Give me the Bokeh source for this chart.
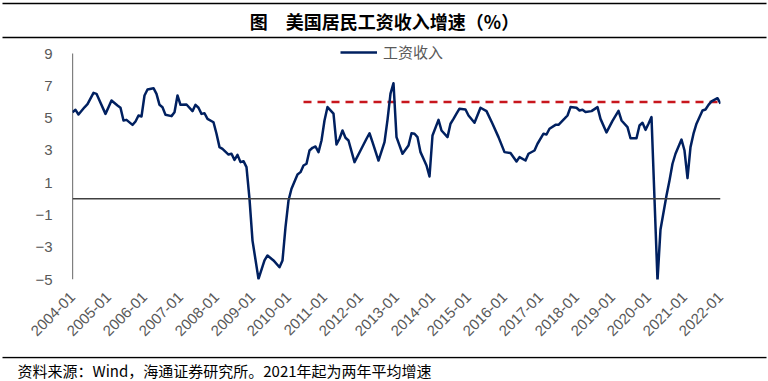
import math
from bokeh.plotting import figure
from bokeh.layouts import column
from bokeh.models import (Span, Legend, LegendItem, FixedTicker, Range1d)
from bokeh.core.properties import value
from bokeh.embed import file_html
from bokeh.resources import INLINE

# ---------------- data ----------------
months = [
    "2004-01", "2004-02", "2004-03", "2004-05", "2004-06", "2004-08", "2004-09", "2004-10",
    "2004-12", "2005-01", "2005-02", "2005-04", "2005-05", "2005-06", "2005-07", "2005-09",
    "2005-10", "2005-11", "2005-12", "2006-01", "2006-02", "2006-04", "2006-05", "2006-06",
    "2006-07", "2006-08", "2006-10", "2006-11", "2006-12", "2007-01", "2007-03", "2007-05",
    "2007-06", "2007-07", "2007-08", "2007-09", "2007-10", "2007-12", "2008-01", "2008-02",
    "2008-03", "2008-05", "2008-06", "2008-07", "2008-08", "2008-09", "2008-10", "2008-11",
    "2008-12", "2009-01", "2009-03", "2009-05", "2009-06", "2009-08", "2009-10", "2009-11",
    "2009-12", "2010-01", "2010-02", "2010-04", "2010-05", "2010-06", "2010-07", "2010-08",
    "2010-09", "2010-10", "2010-11", "2010-12", "2011-01", "2011-02", "2011-04", "2011-05",
    "2011-06", "2011-07", "2011-08", "2011-09", "2011-11", "2012-01", "2012-03", "2012-04",
    "2012-05", "2012-07", "2012-09", "2012-10", "2012-11", "2012-12", "2013-01", "2013-03",
    "2013-05", "2013-06", "2013-07", "2013-08", "2013-09", "2013-10", "2013-11", "2013-12",
    "2014-01", "2014-03", "2014-04", "2014-06", "2014-07", "2014-08", "2014-09", "2014-10",
    "2014-12", "2015-01", "2015-03", "2015-05", "2015-07", "2015-09", "2015-11", "2016-01",
    "2016-03", "2016-05", "2016-06", "2016-08", "2016-09", "2016-11", "2016-12", "2017-02",
    "2017-03", "2017-04", "2017-06", "2017-07", "2017-09", "2017-10", "2017-11", "2018-01",
    "2018-02", "2018-03", "2018-04", "2018-06", "2018-08", "2018-09", "2018-11", "2019-01",
    "2019-03", "2019-04", "2019-06", "2019-07", "2019-09", "2019-10", "2019-11", "2019-12",
    "2020-01", "2020-02", "2020-04", "2020-05", "2020-07", "2020-08", "2020-09", "2020-10",
    "2020-12", "2021-01", "2021-02", "2021-03", "2021-04", "2021-05", "2021-07", "2021-08",
    "2021-09", "2021-10", "2021-12", "2022-01",
]
wage_growth = [
    5.36, 5.51, 5.22, 5.67, 5.86, 6.56, 6.50, 6.09,
    5.26, 5.67, 6.09, 5.78, 5.64, 4.85, 4.89, 4.58,
    4.79, 5.16, 5.10, 6.40, 6.77, 6.85, 6.50, 5.82,
    5.67, 5.20, 5.12, 5.36, 6.40, 5.82, 5.84, 5.43,
    5.82, 5.64, 5.26, 5.30, 4.95, 4.74, 4.03, 3.20,
    3.09, 2.74, 2.79, 2.41, 2.72, 2.27, 2.33, 1.96,
    0.00, -2.59, -4.96, -3.82, -3.51, -3.82, -4.24, -3.82,
    -1.76, -0.11, 0.62, 1.50, 1.65, 2.06, 2.17, 2.99,
    3.16, 3.24, 2.89, 3.61, 4.85, 5.68, 5.27, 3.36,
    3.72, 4.23, 3.78, 3.61, 2.27, 2.99, 3.72, 4.06,
    3.51, 2.37, 3.51, 4.89, 6.51, 7.16, 3.82, 2.79,
    3.30, 4.06, 4.03, 3.82, 2.89, 2.48, 2.06, 1.38,
    3.92, 4.89, 4.23, 3.82, 4.65, 4.95, 5.27, 5.58,
    5.53, 5.16, 4.71, 5.64, 5.43, 4.65, 3.82, 2.89,
    2.83, 2.31, 2.58, 2.37, 2.79, 2.99, 3.41, 4.03,
    3.98, 4.34, 4.58, 4.58, 4.96, 5.16, 5.68, 5.64,
    5.47, 5.51, 5.37, 5.43, 5.68, 4.95, 4.11, 4.83,
    5.45, 4.85, 4.44, 3.75, 3.75, 4.54, 4.71, 4.27,
    4.65, 5.06, -5.06, -1.90, 0.20, 1.13, 2.17, 2.79,
    3.67, 2.99, 1.28, 3.20, 4.03, 4.65, 5.47, 5.53,
    5.82, 6.03, 6.23, 5.89,
]
ref_months = ["2010-06", "2022-01"]
ref_values = [6.0, 6.0]

tick_labels = ["%d-01" % y for y in range(2004, 2023)]
y_ticks = [-5, -3, -1, 1, 3, 5, 7, 9]

title_text = "图　美国居民工资收入增速（%）"
series_name = "工资收入"
source_text = "资料来源：Wind，海通证券研究所。2021年起为两年平均增速"


def to_x(s):
    y, m = s.split("-")
    return int(y) + (int(m) - 1) / 12.0


xs = [to_x(s) for s in months]
ref_xs = [to_x(s) for s in ref_months]
tick_pos = [to_x(s) for s in tick_labels]

W = 768
CJK = "Noto Sans CJK SC"
LABEL_FONT = "Liberation Sans"
GREY = "#595959"


def tidy(f):
    f.frame_align = False
    f.outline_line_color = None
    for g in f.grid:
        g.grid_line_color = None
        g.minor_grid_line_color = None
        g.visible = False


def plain(h, ymax):
    f = figure(width=W, height=h, output_backend="svg", toolbar_location=None, tools="",
               x_range=Range1d(0, W), y_range=Range1d(ymax, 0),
               x_axis_type=None, y_axis_type=None, min_border=0)
    tidy(f)
    return f


# ---------------- title band ----------------
top = plain(40, 40)
top.segment(x0=[2, 2], y0=[3, 37], x1=[766, 766], y1=[3, 37], line_color="black", line_width=1.5)
top.text(x=[384], y=[20], text=[title_text], text_align="center", text_baseline="middle",
         text_font=value(CJK), text_font_size="18px", text_font_style="bold", text_color="black")

# ---------------- main chart ----------------
H_MAIN = 316                 # covers page rows 40..356
FRAME_TOP, FRAME_BOTTOM = 40, 279
unit = (FRAME_BOTTOM - 53) / 14.0
y_top = 9 + (53 - FRAME_TOP) / unit

p = figure(width=W, height=H_MAIN, output_backend="svg", toolbar_location=None, tools="",
           x_range=Range1d(tick_pos[0], tick_pos[-1]), y_range=Range1d(-5, y_top),
           min_border_left=72, min_border_right=W - 720,
           min_border_top=0, min_border_bottom=(40 + H_MAIN) - FRAME_BOTTOM)
tidy(p)

ya = p.yaxis[0]
ya.ticker = FixedTicker(ticks=y_ticks)
ya.axis_line_color = None
ya.major_tick_line_color = None
ya.minor_tick_line_color = None
ya.major_label_text_font = LABEL_FONT
ya.major_label_text_font_size = "15px"
ya.major_label_text_color = GREY
ya.major_label_standoff = 14

xa = p.xaxis[0]
xa.ticker = FixedTicker(ticks=tick_pos)
xa.major_label_overrides = {t: lab for t, lab in zip(tick_pos, tick_labels)}
xa.axis_line_color = None
xa.major_tick_line_color = None
xa.minor_tick_line_color = None
xa.major_label_orientation = math.pi / 4
xa.major_label_text_font = LABEL_FONT
xa.major_label_text_font_size = "15px"
xa.major_label_text_color = GREY
xa.major_label_standoff = 9

# value axis line (from lowest to highest tick)
p.line(x=[tick_pos[0], tick_pos[0]], y=[y_ticks[0], y_ticks[-1]],
       line_color="black", line_width=1.2, line_cap="butt")
# zero line
p.add_layout(Span(location=0, dimension="width", line_color="#404040", line_width=1.5))

ref_line = p.line(ref_xs, ref_values, line_color="#C8161D", line_width=2.5, line_dash="8 6")
main_line = p.line(xs, wage_growth, line_color="#002060", line_width=2.5, line_join="round")

frame_h = FRAME_BOTTOM - FRAME_TOP
legend = Legend(items=[LegendItem(label=series_name, renderers=[main_line])],
                location=(340 - 72, frame_h - (53 - FRAME_TOP) - 9),
                orientation="horizontal",
                glyph_width=37, glyph_height=18, label_height=18,
                label_standoff=6, padding=0, margin=0, spacing=0,
                border_line_color=None, background_fill_alpha=0,
                label_text_font=CJK, label_text_font_size="15px",
                label_text_color=GREY)
p.add_layout(legend, "center")

# ---------------- source band ----------------
bot = plain(25, 25)
bot.segment(x0=[2], y0=[1], x1=[766], y1=[1], line_color="black", line_width=1.5)
bot.text(x=[17], y=[14], text=[source_text], text_align="left", text_baseline="middle",
         text_font=value(CJK), text_font_size="15px", text_color="black")

layout = column(top, p, bot, spacing=0)
open("out.html", "w").write(file_html(layout, INLINE))
